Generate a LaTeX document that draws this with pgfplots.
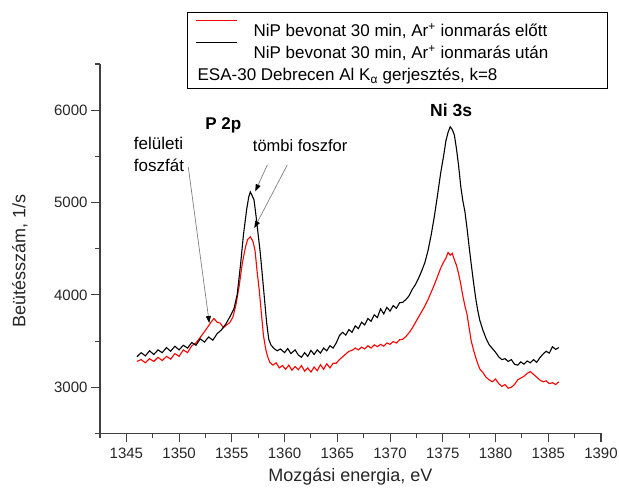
\documentclass[border=0pt]{standalone}
\usepackage{fontspec}
\setmainfont{Liberation Sans}
\usepackage{pgfplots}
\pgfplotsset{compat=1.18}
\usetikzlibrary{arrows.meta}

% Ni P XPS spectra, before and after Ar+ sputtering
\pgfplotstableread{
E C
1346.0 3280
1346.4 3300
1346.8 3265
1347.2 3310
1347.6 3280
1348.0 3325
1348.4 3290
1348.8 3335
1349.2 3305
1349.6 3365
1350.0 3335
1350.4 3405
1350.8 3375
1351.2 3450
1351.6 3480
1352.0 3540
1352.4 3600
1352.7 3650
1353.0 3700
1353.3 3745
1353.6 3705
1353.9 3695
1354.2 3645
1354.5 3675
1354.8 3700
1355.1 3760
1355.4 3900
1355.7 4100
1356.0 4350
1356.3 4520
1356.5 4600
1356.75 4630
1357.0 4580
1357.2 4480
1357.4 4250
1357.6 4050
1357.8 3800
1358.0 3560
1358.2 3420
1358.4 3330
1358.6 3270
1358.9 3240
1359.2 3265
1359.5 3210
1359.8 3235
1360.1 3195
1360.4 3240
1360.7 3185
1361.0 3225
1361.3 3190
1361.6 3235
1361.9 3175
1362.2 3210
1362.5 3165
1362.8 3220
1363.1 3180
1363.4 3245
1363.7 3195
1364.0 3255
1364.3 3210
1364.6 3260
1364.9 3260
1365.2 3300
1365.5 3330
1365.8 3360
1366.1 3390
1366.4 3400
1366.7 3425
1367.0 3405
1367.3 3435
1367.6 3415
1367.9 3450
1368.2 3425
1368.5 3460
1368.8 3440
1369.1 3465
1369.4 3445
1369.7 3480
1370.0 3465
1370.3 3495
1370.6 3480
1370.9 3515
1371.2 3520
1371.5 3550
1371.8 3590
1372.1 3640
1372.4 3700
1372.7 3760
1373.0 3820
1373.3 3880
1373.6 3950
1373.9 4030
1374.2 4110
1374.5 4200
1374.8 4290
1375.1 4360
1375.3 4400
1375.5 4460
1375.7 4430
1375.9 4450
1376.1 4380
1376.3 4320
1376.5 4230
1376.7 4120
1376.9 3990
1377.1 3880
1377.3 3790
1377.5 3640
1377.7 3500
1377.9 3410
1378.1 3330
1378.3 3260
1378.5 3200
1378.8 3160
1379.1 3110
1379.4 3080
1379.7 3060
1380.0 3090
1380.3 3040
1380.6 3010
1380.9 3030
1381.2 2990
1381.5 3000
1381.8 3030
1382.1 3080
1382.4 3100
1382.7 3120
1383.0 3150
1383.3 3170
1383.6 3140
1383.9 3110
1384.2 3080
1384.5 3060
1384.8 3070
1385.1 3040
1385.4 3050
1385.7 3030
1386.0 3060
}\before

\pgfplotstableread{
E C
1346.0 3330
1346.4 3375
1346.8 3340
1347.2 3395
1347.6 3355
1348.0 3405
1348.4 3375
1348.8 3430
1349.2 3390
1349.6 3445
1350.0 3405
1350.4 3455
1350.8 3425
1351.2 3485
1351.6 3455
1352.0 3525
1352.4 3490
1352.8 3545
1353.2 3510
1353.6 3580
1354.0 3620
1354.4 3680
1354.8 3760
1355.2 3850
1355.5 4000
1355.8 4300
1356.1 4650
1356.4 4920
1356.6 5060
1356.75 5115
1356.9 5080
1357.1 5030
1357.3 4850
1357.5 4650
1357.7 4450
1357.9 4200
1358.1 3950
1358.3 3700
1358.5 3520
1358.7 3460
1359.0 3420
1359.3 3395
1359.6 3415
1360.0 3375
1360.3 3420
1360.6 3365
1361.0 3405
1361.3 3350
1361.6 3325
1361.9 3375
1362.2 3335
1362.5 3400
1362.8 3355
1363.1 3405
1363.4 3370
1363.7 3425
1364.0 3395
1364.3 3450
1364.6 3425
1364.9 3480
1365.2 3560
1365.5 3595
1365.8 3565
1366.1 3625
1366.4 3595
1366.7 3665
1367.0 3635
1367.3 3705
1367.6 3675
1367.9 3745
1368.2 3715
1368.5 3785
1368.8 3755
1369.1 3850
1369.4 3795
1369.7 3865
1370.0 3825
1370.3 3885
1370.6 3855
1370.9 3915
1371.2 3920
1371.5 3950
1371.8 3990
1372.1 4060
1372.4 4110
1372.7 4180
1373.0 4260
1373.3 4350
1373.6 4480
1373.9 4650
1374.2 4850
1374.5 5080
1374.8 5320
1375.1 5520
1375.3 5670
1375.5 5760
1375.7 5820
1375.9 5790
1376.1 5730
1376.3 5580
1376.5 5400
1376.7 5180
1376.9 5020
1377.1 4900
1377.3 4720
1377.5 4520
1377.7 4330
1377.9 4150
1378.1 3980
1378.3 3840
1378.5 3730
1378.8 3620
1379.1 3530
1379.4 3460
1379.7 3420
1380.0 3380
1380.3 3330
1380.6 3300
1380.9 3310
1381.2 3280
1381.5 3300
1381.8 3250
1382.1 3240
1382.4 3275
1382.7 3250
1383.0 3285
1383.3 3265
1383.6 3300
1383.9 3270
1384.2 3320
1384.5 3360
1384.8 3390
1385.1 3370
1385.4 3440
1385.7 3410
1386.0 3430
}\after

\begin{document}
\begin{tikzpicture}
\path[use as bounding box] (-100pt,-60.5pt) rectangle (519pt,433.5pt);
\begin{axis}[
    width=501pt, height=369.5pt, scale only axis,
    xmin=1342.5, xmax=1390, ymin=2500, ymax=6500,
    axis x line*=bottom, axis y line*=left,
    axis line style={line width=1.1pt, black!75},
    xtick={1345,1350,...,1390},
    minor xtick={1342.5,1347.5,...,1387.5},
    ytick={3000,4000,5000,6000},
    minor ytick={2500,3500,...,6500},
    tick align=outside,
    major tick length=9pt, minor tick length=5pt,
    every tick/.style={line width=1.1pt, black!75},
    /pgf/number format/1000 sep={},
    /pgf/number format/assume math mode=true,
    ticklabel style={font=\fontsize{15}{17}\selectfont, text=black!85},
    xticklabel style={yshift=-2pt},
    xlabel={Mozgási energia, eV},
    ylabel={Beütésszám, 1/s},
    label style={font=\fontsize{18}{20}\selectfont, text=black!85},
    xlabel style={at={(axis description cs:0.5,-0.1177)}, anchor=center},
    ylabel style={at={(axis description cs:-0.1597,0.468)}, anchor=center},
    legend cell align=left,
    legend image code/.code={\draw[#1, line width=1.1pt] (0pt,8pt) -- (41pt,8pt);},
    legend style={at={(axis description cs:0.1737,1.1407)}, anchor=north west,
        draw=black, line width=1pt, inner xsep=8pt, inner ysep=6pt,
        font=\fontsize{17}{19}\selectfont, row sep=1.8pt, column sep=16pt,
        nodes={inner sep=0pt, text height=18.2pt, text depth=2pt}},
]
\addplot[red, line width=1.1pt] table[x=E, y=C] {\before};
\addlegendentry{\makebox[346pt][l]{NiP bevonat 30 min, Ar\textsuperscript{+} ionmarás előtt}}
\addplot[black, line width=1.1pt] table[x=E, y=C] {\after};
\addlegendentry{NiP bevonat 30 min, Ar\textsuperscript{+} ionmarás után}
\addlegendimage{empty legend}
\addlegendentry{\hspace*{-56pt}ESA-30 Debrecen Al K\textsubscript{α} gerjesztés, k=8}

\node[font=\bfseries\fontsize{17}{19}\selectfont] at (axis cs:1354.19,5831) {P 2p};
\node[font=\bfseries\fontsize{17.5}{19}\selectfont] at (axis cs:1375.79,5994) {Ni 3s};
\node[anchor=west, font=\fontsize{17}{19}\selectfont] at (axis cs:1345.38,5644) {felületi};
\node[anchor=west, font=\fontsize{17}{19}\selectfont] at (axis cs:1345.38,5406) {foszfát};
\node[font=\fontsize{16.5}{19}\selectfont] at (axis cs:1361.48,5614) {tömbi foszfor};
\draw[black!50, line width=0.7pt, -{Triangle[length=7pt, width=5pt, color=black]}]
    (axis cs:1350.87,5384) -- (axis cs:1352.86,3696);
\draw[black!50, line width=0.7pt, -{Triangle[length=7pt, width=5pt, color=black]}]
    (axis cs:1358.36,5406) -- (axis cs:1357.22,5122);
\draw[black!50, line width=0.7pt, -{Triangle[length=7pt, width=5pt, color=black]}]
    (axis cs:1360.25,5406) -- (axis cs:1357.13,4724);
\end{axis}
\end{tikzpicture}
\end{document}
